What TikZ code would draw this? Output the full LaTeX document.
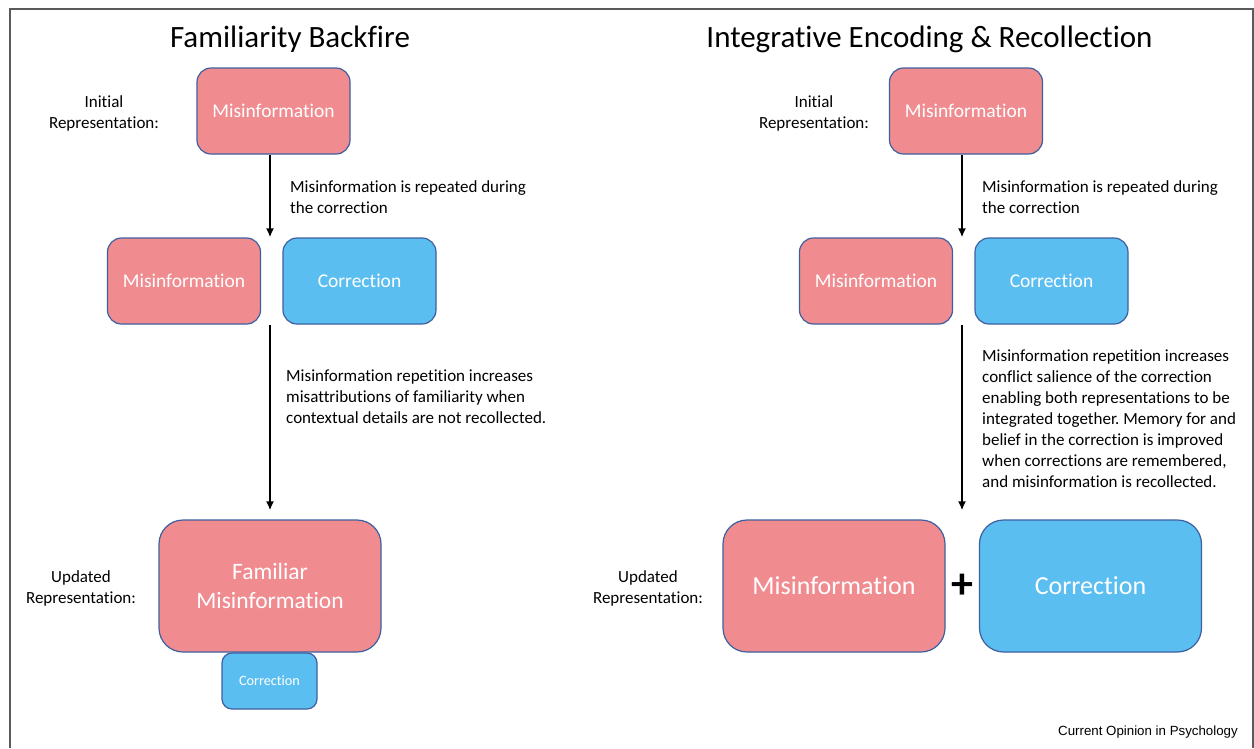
\documentclass[tikz,border=0pt]{standalone}
\usepackage{fontspec}
\setmainfont{Carlito}[Ligatures={NoCommon}]
\newfontfamily\arialfont{Liberation Sans}
\usetikzlibrary{arrows.meta}
\definecolor{misred}{RGB}{240,139,144}
\definecolor{corblue}{RGB}{91,190,240}
\definecolor{boxline}{RGB}{62,96,160}
\definecolor{framegray}{RGB}{90,90,90}
\frenchspacing

\begin{document}
\begin{tikzpicture}[x=1pt, y=-1pt,
    mis/.style = {draw=boxline, line width=1.2pt, fill=misred, text=white, rounded corners=14pt, inner sep=0pt,
                  minimum width=153pt, minimum height=86pt, align=center, font=\fontsize{19.5}{23}\selectfont},
    cor/.style = {mis, fill=corblue},
    big/.style = {minimum width=222pt, minimum height=132pt, rounded corners=24pt, font=\fontsize{26}{30}\selectfont},
    note/.style = {anchor=base west, align=left, inner sep=0pt, font=\fontsize{17}{21}\selectfont},
    lbl/.style = {anchor=base, align=center, inner sep=0pt, font=\fontsize{17}{21}\selectfont},
    ttl/.style = {anchor=base, inner sep=0pt, font=\fontsize{31}{36}\selectfont},
    arr/.style = {-{Latex[length=9pt,width=8pt]}, line width=1.8pt}]
  \useasboundingbox (0,0) rectangle (1254,748);
  \fill[white] (0,0) rectangle (1254,748);
  \draw[framegray, line width=1.6pt] (10,748) -- (10,9) -- (1253,9) -- (1253,748);

  % familiarity backfire (note nodes sit on the baseline of their last line)
  \node[ttl](ltitle) at (290,47){Familiarity Backfire};
  \node[lbl](linit) at (104,128){Initial\\Representation:};
  \node[mis](lm0) at (273.5,111){Misinformation};
  \node[mis](lm1) at (184,281){Misinformation};
  \node[cor](lc1) at (359.5,281){Correction};
  \coordinate (lgap) at (270,281);
  \node[mis,big,font=\fontsize{23.5}{29}\selectfont](lfam) at (270,586){Familiar\\Misinformation};
  \node[cor,minimum width=95pt,minimum height=56pt,rounded corners=10pt,font=\fontsize{14.2}{17}\selectfont](lc2) at (269.5,681){Correction};
  \node[lbl](lupd) at (81,603){Updated\\Representation:};
  \node[note](lt1) at (290,213){Misinformation is repeated during\\the correction};
  \node[note](lt2) at (286,423){Misinformation repetition increases\\misattributions of familiarity when\\contextual details are not recollected.};
  \draw[arr] (lgap |- lm0.south) -- (lgap |- lm1.north);
  \draw[arr, shorten >=9pt] (lgap |- lm1.south) -- (lgap |- lfam.north);

  % integrative encoding
  \node[ttl](rtitle) at (929.5,47){Integrative Encoding \& Recollection};
  \node[lbl](rinit) at (814,128){Initial\\Representation:};
  \node[mis](rm0) at (966,111){Misinformation};
  \node[mis](rm1) at (876,281){Misinformation};
  \node[cor](rc1) at (1051.5,281){Correction};
  \coordinate (rgap) at (962,281);
  \node[mis,big](rm2) at (834,586){Misinformation};
  \node[cor,big](rc2) at (1090.5,586){Correction};
  \node[inner sep=0pt,font=\fontsize{44}{44}\selectfont\bfseries](plus) at (962,586){+};
  \node[lbl](rupd) at (648,603){Updated\\Representation:};
  \node[note](rt1) at (982,213){Misinformation is repeated during\\the correction};
  \node[note](rt2) at (982,487){Misinformation repetition increases\\conflict salience of the correction\\enabling both representations to be\\integrated together. Memory for and\\belief in the correction is improved\\when corrections are remembered,\\and misinformation is recollected.};
  \draw[arr] (rgap |- rm0.south) -- (rgap |- rm1.north);
  \draw[arr, shorten >=9pt] (rgap |- rm1.south) -- (rgap |- rm2.north);

  \node[anchor=base east,inner sep=0pt,font=\arialfont\fontsize{13.3}{16}\selectfont](src) at (1238,735){Current Opinion in Psychology};
\end{tikzpicture}
\end{document}
